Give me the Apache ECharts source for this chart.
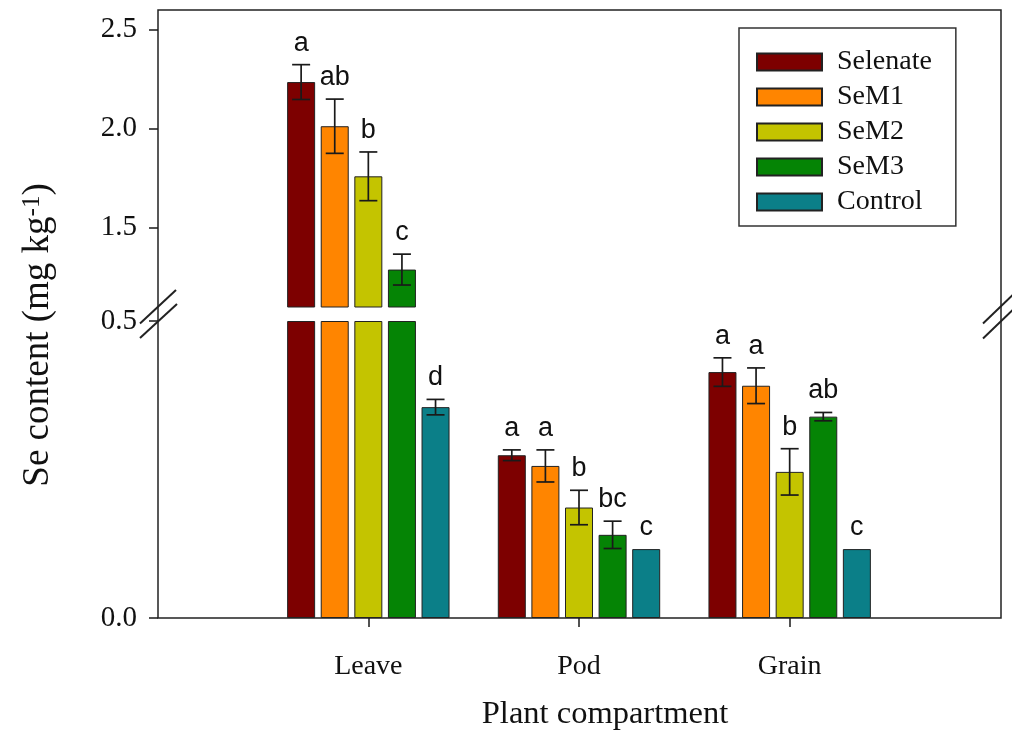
<!DOCTYPE html>
<html>
<head>
<meta charset="utf-8">
<script src="https://cdn.jsdelivr.net/npm/echarts@6/dist/echarts.min.js"></script>
<style>
  html, body { margin: 0; padding: 0; background: #fff; }
  #chart { width: 1012px; height: 740px; }
</style>
</head>
<body>
<div id="chart"></div>
<script>
// ---------- data ----------
const categories = ['Leave', 'Pod', 'Grain'];
const treatments = ['Selenate', 'SeM1', 'SeM2', 'SeM3', 'Control'];

const selenate    = [2.236, 0.274, 0.414];
const selenateErr = [0.088, 0.009, 0.024];
const seM1        = [2.013, 0.256, 0.391];
const seM1Err     = [0.137, 0.027, 0.030];
const seM2        = [1.760, 0.186, 0.246];
const seM2Err     = [0.123, 0.029, 0.039];
const seM3        = [1.289, 0.140, 0.339];
const seM3Err     = [0.078, 0.023, 0.007];
const control     = [0.355, 0.116, 0.116];
const controlErr  = [0.013, 0.000, 0.000];

const selenateLetters = ['a', 'a', 'a'];
const seM1Letters     = ['ab', 'a', 'a'];
const seM2Letters     = ['b', 'b', 'b'];
const seM3Letters     = ['c', 'bc', 'ab'];
const controlLetters  = ['d', 'c', 'c'];

const upperRange = [1.1, 2.6];
const lowerRange = [0, 0.5];
const upperTicks = [1.5, 2.0, 2.5];
const lowerTicks = [0.0, 0.5];

// ---------- styling ----------
const colors = ['#7d0000', '#ff8500', '#c4c400', '#058405', '#0b7f88'];
const SERIF = "'Liberation Serif', 'Times New Roman', serif";
const SANS = "'Liberation Sans', Arial, sans-serif";
const BAR_W = 28;
const BAR_GAP = 0.2;
const STEP = BAR_W * (1 + BAR_GAP);
const CAP = 9;
const INK = '#1a1a1a';

const values = [selenate, seM1, seM2, seM3, control];
const errs = [selenateErr, seM1Err, seM2Err, seM3Err, controlErr];
const letters = [selenateLetters, seM1Letters, seM2Letters, seM3Letters, controlLetters];

const chart = echarts.init(document.getElementById('chart'), null, { renderer: 'canvas' });

const grids = [
  { left: 158, width: 843, top: 10, height: 608, show: true, borderColor: '#222', borderWidth: 1.5, backgroundColor: 'transparent' },
  { left: 263, width: 632, top: 10, height: 297 },
  { left: 263, width: 632, top: 321, height: 297 }
];

function yAxisFor(gridIndex, range, ticks) {
  return {
    type: 'value', gridIndex: gridIndex, min: range[0], max: range[1],
    offset: 105,
    splitLine: { show: false },
    axisLine: { show: false },
    axisTick: { show: true, inside: false, length: 9, customValues: ticks, lineStyle: { color: INK, width: 1.5 } },
    axisLabel: {
      customValues: ticks, margin: 21, fontFamily: SERIF, fontSize: 29, color: '#111',
      formatter: v => v.toFixed(1)
    }
  };
}

const xAxes = [
  { type: 'value', gridIndex: 0, show: false, min: 0, max: 1 },
  { type: 'category', gridIndex: 1, data: categories, show: false },
  {
    type: 'category', gridIndex: 2, data: categories,
    axisLine: { show: false },
    axisTick: { show: true, alignWithLabel: true, length: 9, lineStyle: { color: INK, width: 1.5 } },
    axisLabel: { margin: 35, fontFamily: SERIF, fontSize: 28, color: '#111' }
  }
];
const yAxes = [
  { type: 'value', gridIndex: 0, show: false, min: 0, max: 1 },
  yAxisFor(1, upperRange, upperTicks),
  yAxisFor(2, lowerRange, lowerTicks)
];

const series = [];
treatments.forEach((name, s) => {
  const vals = values[s];
  // upper part: only values that reach above the break
  series.push({
    name: name, type: 'bar', xAxisIndex: 1, yAxisIndex: 1,
    barWidth: BAR_W, barGap: (BAR_GAP * 100) + '%',
    itemStyle: { color: colors[s], borderColor: '#222', borderWidth: 1 },
    data: vals.map(v => (v > upperRange[0] ? v : '-'))
  });
  // lower part: capped at the lower axis maximum
  series.push({
    name: name, type: 'bar', xAxisIndex: 2, yAxisIndex: 2,
    barWidth: BAR_W, barGap: (BAR_GAP * 100) + '%',
    itemStyle: { color: colors[s], borderColor: '#222', borderWidth: 1 },
    data: vals.map(v => Math.min(v, lowerRange[1]))
  });
});

// error bars + significance letters
function errData(upper) {
  const items = [];
  const labs = [];
  values.forEach((vals, s) => {
    vals.forEach((v, c) => {
      const inUpper = v > lowerRange[1];
      if (inUpper === upper) {
        items.push([c, v, errs[s][c], s]);
        labs.push(letters[s][c]);
      }
    });
  });
  return { items, labs };
}

function errSeries(upper, xi, yi) {
  const d = errData(upper);
  return {
    type: 'custom', xAxisIndex: xi, yAxisIndex: yi, z: 10,
    encode: { x: 0, y: 1 },
    data: d.items,
    clip: false,
    renderItem: function (params, api) {
      const c = api.value(0), v = api.value(1), e = api.value(2), s = api.value(3);
      const dx = (s - 2) * STEP;
      const pMid = api.coord([c, v]);
      const x = pMid[0] + dx;
      const yTop = api.coord([c, v + e])[1];
      const yBot = api.coord([c, v - e])[1];
      const children = [];
      if (e > 0) {
        const ls = { stroke: INK, lineWidth: 1.7 };
        children.push({ type: 'line', shape: { x1: x, y1: yTop, x2: x, y2: yBot }, style: ls });
        children.push({ type: 'line', shape: { x1: x - CAP, y1: yTop, x2: x + CAP, y2: yTop }, style: ls });
        children.push({ type: 'line', shape: { x1: x - CAP, y1: yBot, x2: x + CAP, y2: yBot }, style: ls });
      }
      children.push({
        type: 'text', x: x, y: yTop - 8,
        style: { text: d.labs[params.dataIndex], fill: '#111', font: '27px ' + SANS, align: 'center', verticalAlign: 'bottom' }
      });
      return { type: 'group', children: children };
    }
  };
}
series.push(errSeries(true, 1, 1));
series.push(errSeries(false, 2, 2));

const breakStyle = { stroke: '#222', lineWidth: 2 };

const option = {
  animation: false,
  backgroundColor: '#fff',
  color: colors,
  grid: grids,
  xAxis: xAxes,
  yAxis: yAxes,
  legend: {
    data: treatments,
    orient: 'vertical',
    left: 739, top: 28,
    icon: 'rect',
    itemWidth: 65, itemHeight: 17, itemGap: 7,
    padding: [20, 24, 10, 17],
    borderColor: '#333', borderWidth: 1.5,
    textStyle: { fontFamily: SERIF, fontSize: 28, color: '#111', padding: [0, 0, 0, 10] }
  },
  series: series,
  graphic: [
    { type: 'line', shape: { x1: 140, y1: 323.5, x2: 176, y2: 290 }, style: breakStyle, z: 20 },
    { type: 'line', shape: { x1: 140, y1: 338, x2: 177, y2: 304 }, style: breakStyle, z: 20 },
    { type: 'line', shape: { x1: 983, y1: 323.5, x2: 1019, y2: 289 }, style: breakStyle, z: 20 },
    { type: 'line', shape: { x1: 983, y1: 338.5, x2: 1019, y2: 304 }, style: breakStyle, z: 20 },
    {
      type: 'text', x: 38, y: 335, rotation: Math.PI / 2, z: 20,
      style: {
        text: '{m|Se content (mg kg}{s|-1}{m|)}',
        align: 'center', verticalAlign: 'middle', fill: '#111',
        rich: {
          m: { fontFamily: SERIF, fontSize: 37, fill: '#111', verticalAlign: 'bottom' },
          s: { fontFamily: SERIF, fontSize: 25, fill: '#111', verticalAlign: 'top' }
        }
      }
    },
    {
      type: 'text', x: 605, y: 714, z: 20,
      style: { text: 'Plant compartment', font: '32.5px ' + SERIF, fill: '#111', align: 'center', verticalAlign: 'middle' }
    }
  ]
};

chart.setOption(option);
</script>
</body>
</html>
